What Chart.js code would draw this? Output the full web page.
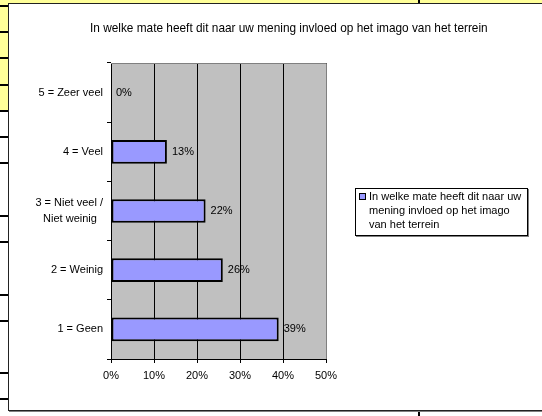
<!DOCTYPE html>
<html>
<head>
<meta charset="utf-8">
<script src="https://cdn.jsdelivr.net/npm/chart.js@4.4.1/dist/chart.umd.min.js"></script>
<style>
    body { margin: 0; width: 542px; height: 416px; overflow: hidden; background: #fff; position: relative;
           font-family: "Liberation Sans", Arial, sans-serif; }
    .cell-top { position: absolute; left: 0; top: 0; width: 542px; height: 3px; background: #FFFF99; }
    .cell-left { position: absolute; left: 0; top: 0; width: 8px; height: 111px; background: #FFFF99; }
    .hline { position: absolute; left: 0; width: 8px; height: 2px; background: #000; }
    .vline { position: absolute; left: 418px; width: 2px; background: #000; }
    #frame { position: absolute; left: 8px; top: 3px; width: 600px; height: 406px;
             border: 1px solid #222; box-shadow: 1px 1px 0 #808080; background: #fff; }
    #chart { position: absolute; left: 0; top: 0; }
    #title { position: absolute; left: 81px; top: 17px; font-size: 11.85px; line-height: 14px; white-space: nowrap; color: #000; }
    #legend { position: absolute; left: 346px; top: 184px; width: 171px; height: 46px;
              border: 1px solid #000; box-shadow: 1px 1px 0 #808080; background: #fff; }
    #legend .swatch { position: absolute; left: 3px; top: 4px; width: 5px; height: 5px;
                      background: #9999FF; border: 1px solid #000; }
    #legend .text { position: absolute; left: 13px; top: 0px; font-size: 11px; line-height: 14px; color: #000; white-space: nowrap; }
</style>
</head>
<body>
<div class="cell-top"></div>
<div class="cell-left"></div>
<div id="hlines"></div>
<div class="vline" style="top:0;height:3px"></div>
<div class="vline" style="top:411px;height:5px"></div>

<div id="frame">
    <canvas id="chart" width="533" height="406" style="width:533px;height:406px"></canvas>
    <div id="title">In welke mate heeft dit naar uw mening invloed op het imago van het terrein</div>
    <div id="legend">
        <div class="swatch"></div>
        <div class="text">In welke mate heeft dit naar uw<br>mening invloed op het imago<br>van het terrein</div>
    </div>
</div>

<script>
document.addEventListener('DOMContentLoaded', function () {

    // answers, top to bottom
    const categories = ['5 = Zeer veel', '4 = Veel', ['3 = Niet veel /', 'Niet weinig  '], '2 = Weinig', '1 = Geen'];
    const percentages = [0, 13, 22, 26, 39];
    const axisTicks = [0, 10, 20, 30, 40, 50];
    const seriesName = 'In welke mate heeft dit naar uw mening invloed op het imago van het terrein';

    // spreadsheet row borders down the left edge
    const rowLines = [5, 31, 57, 84, 110, 136, 162, 215, 241, 294, 320, 372, 398];
    const hl = document.getElementById('hlines');
    rowLines.forEach(y => {
        const d = document.createElement('div');
        d.className = 'hline';
        d.style.top = y + 'px';
        hl.appendChild(d);
    });

    const font = { family: '"Liberation Sans", Arial, sans-serif', size: 11 };

    // grey plot area with its border, plus value labels next to the bars
    const plotArea = {
        id: 'plotArea',
        beforeDraw(chart) {
            const a = chart.chartArea, ctx = chart.ctx;
            ctx.save();
            ctx.fillStyle = '#C0C0C0';
            ctx.fillRect(a.left, a.top, a.right - a.left, a.bottom - a.top);
            ctx.restore();
        },
        afterDatasetsDraw(chart) {
            const a = chart.chartArea, ctx = chart.ctx;
            ctx.save();
            ctx.strokeStyle = '#808080';
            ctx.lineWidth = 1;
            ctx.beginPath();
            ctx.moveTo(Math.round(a.left), Math.round(a.top) + 0.5);
            ctx.lineTo(Math.round(a.right) + 0.5, Math.round(a.top) + 0.5);
            ctx.lineTo(Math.round(a.right) + 0.5, Math.round(a.bottom));
            ctx.stroke();

            ctx.fillStyle = '#000';
            ctx.font = '11px "Liberation Sans", Arial, sans-serif';
            ctx.textAlign = 'left';
            ctx.textBaseline = 'middle';
            const meta = chart.getDatasetMeta(0);
            meta.data.forEach((bar, i) => {
                ctx.fillText(percentages[i] + '%', bar.x + 5, bar.y);
            });
            ctx.restore();
        }
    };

    new Chart(document.getElementById('chart'), {
        type: 'bar',
        data: {
            labels: categories,
            datasets: [{
                label: seriesName,
                data: percentages,
                backgroundColor: '#9999FF',
                borderColor: '#000',
                borderWidth: 2,
                borderSkipped: false,
                barPercentage: 0.4,
                categoryPercentage: 1
            }]
        },
        options: {
            indexAxis: 'y',
            responsive: false,
            animation: false,
            devicePixelRatio: 1,
            layout: { padding: { top: 59, right: 216, left: 0, bottom: 0 } },
            plugins: {
                legend: { display: false },
                title: { display: false },
                tooltip: { enabled: false }
            },
            scales: {
                x: {
                    min: axisTicks[0],
                    max: axisTicks[axisTicks.length - 1],
                    afterBuildTicks: scale => { scale.ticks = axisTicks.map(v => ({ value: v })); },
                    afterFit: scale => { scale.height = 51; },
                    grid: {
                        color: '#000',
                        lineWidth: 1,
                        tickLength: 4,
                        tickColor: '#000'
                    },
                    border: { display: true, color: '#000', width: 1 },
                    ticks: {
                        color: '#000',
                        font: font,
                        padding: 6,
                        maxRotation: 0,
                        callback: v => v + '%'
                    }
                },
                y: {
                    afterFit: scale => { scale.width = 102; },
                    grid: {
                        drawOnChartArea: false,
                        drawTicks: true,
                        tickLength: 4,
                        tickColor: '#000',
                        offset: true
                    },
                    border: { display: true, color: '#000', width: 1 },
                    ticks: {
                        color: '#000',
                        font: { family: font.family, size: 11, lineHeight: 1.4 },
                        padding: 4
                    }
                }
            }
        },
        plugins: [plotArea]
    });
});
</script>
</body>
</html>
